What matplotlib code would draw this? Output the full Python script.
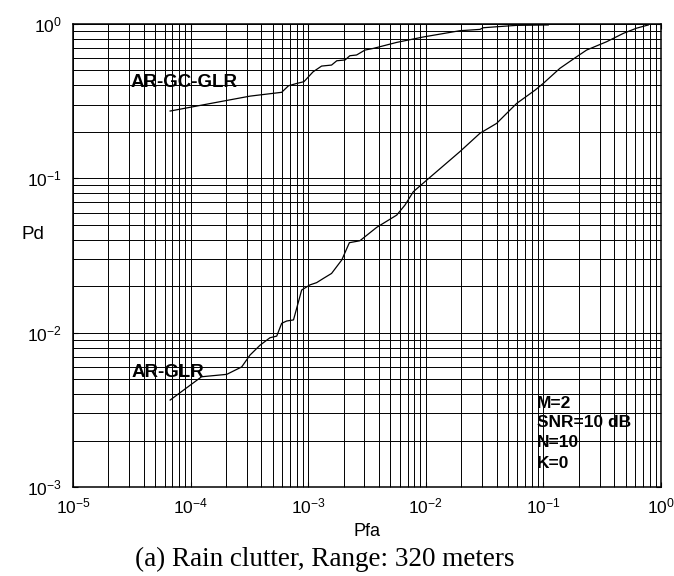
import matplotlib
matplotlib.use("Agg")
import matplotlib.pyplot as plt
import numpy as np

plt.rcParams['font.family'] = ['Liberation Sans', 'DejaVu Sans']

# AR-GC-GLR curve (Pfa, Pd)
pfa_gc = [6.7e-5, 1.67e-4, 3.2e-4, 5.95e-4, 6.8e-4, 7.98e-4, 9.2e-4, 1.1e-3, 1.3e-3,
          1.58e-3, 1.75e-3, 2.06e-3, 2.26e-3, 2.58e-3, 3.04e-3, 3.58e-3, 5.65e-3,
          9.5e-3, 1.95e-2, 2.89e-2, 3.08e-2, 4.0e-2, 5.9e-2, 0.11]
pd_gc = [0.273, 0.311, 0.341, 0.361, 0.398, 0.412, 0.423, 0.49, 0.534,
         0.542, 0.578, 0.585, 0.623, 0.63, 0.678, 0.695, 0.76,
         0.824, 0.905, 0.923, 0.946, 0.96, 0.98, 0.986]

# AR-GLR curve (Pfa, Pd)
pfa_ar = [6.7e-5, 1.24e-4, 2.03e-4, 2.72e-4, 3.2e-4, 3.9e-4, 4.73e-4, 5.4e-4, 5.95e-4,
          6.56e-4, 7.5e-4, 8.8e-4, 1.035e-3, 1.18e-3, 1.35e-3, 1.58e-3, 1.93e-3,
          2.24e-3, 2.75e-3, 3.82e-3, 5.66e-3, 6.65e-3, 7.83e-3, 1.02e-2, 1.95e-2,
          2.89e-2, 4.0e-2, 4.71e-2, 5.93e-2, 8.5e-2, 0.1, 0.138, 0.192, 0.233,
          0.345, 0.479, 0.62, 0.78]
pd_ar = [3.66e-3, 5.18e-3, 5.37e-3, 6.0e-3, 7.16e-3, 8.3e-3, 9.27e-3, 9.5e-3, 0.0115,
         0.0119, 0.0121, 0.0189, 0.0204, 0.0211, 0.0225, 0.0242, 0.0296,
         0.0383, 0.0394, 0.0481, 0.0578, 0.0671, 0.0819, 0.0975, 0.149,
         0.196, 0.227, 0.257, 0.306, 0.373, 0.413, 0.516, 0.614, 0.678,
         0.768, 0.87, 0.94, 0.986]

params = ['M=2', 'SNR=10 dB', 'N=10', 'K=0']

fig = plt.figure(figsize=(6.74, 5.76), dpi=100)
ax = fig.add_axes([0.1083, 0.1545, 0.8724, 0.8038])

ax.loglog(pfa_gc, pd_gc, color='k', linewidth=0.9)
ax.loglog(pfa_ar, pd_ar, color='k', linewidth=0.9)

ax.set_xlim(1e-5, 1)
ax.set_ylim(1e-3, 1)

ax.grid(True, which='both', color='k', linewidth=0.7)
ax.tick_params(which='both', direction='in', top=True, right=True, labelsize=12.5)
ax.tick_params(axis='x', which='major', pad=7)
ax.tick_params(axis='y', which='major', pad=8)
for s in ax.spines.values():
    s.set_linewidth(1.1)

ax.set_xlabel('Pfa', fontsize=13, va='center')
ax.xaxis.set_label_coords(0.5, -0.097)
ax.set_ylabel('Pd', fontsize=13.5, rotation=0, ha='center', va='center')
ax.yaxis.set_label_coords(-0.068, 0.546)

ax.text(3.1e-5, 0.415, 'AR-GC-GLR', fontsize=13.5, fontweight='bold', va='center')
ax.text(3.15e-5, 5.55e-3, 'AR-GLR', fontsize=13.5, fontweight='bold', va='center')

ys = [3.5e-3, 2.6e-3, 1.93e-3, 1.43e-3]
for t, y in zip(params, ys):
    ax.text(0.0883, y, t, fontsize=12.5, fontweight='bold', va='center')

fig.text(325 / 674, 1 - 566 / 576, '(a) Rain clutter, Range: 320 meters',
         family='Liberation Serif', fontsize=19.5, ha='center', va='baseline')

fig.savefig('out.png', dpi=100)
